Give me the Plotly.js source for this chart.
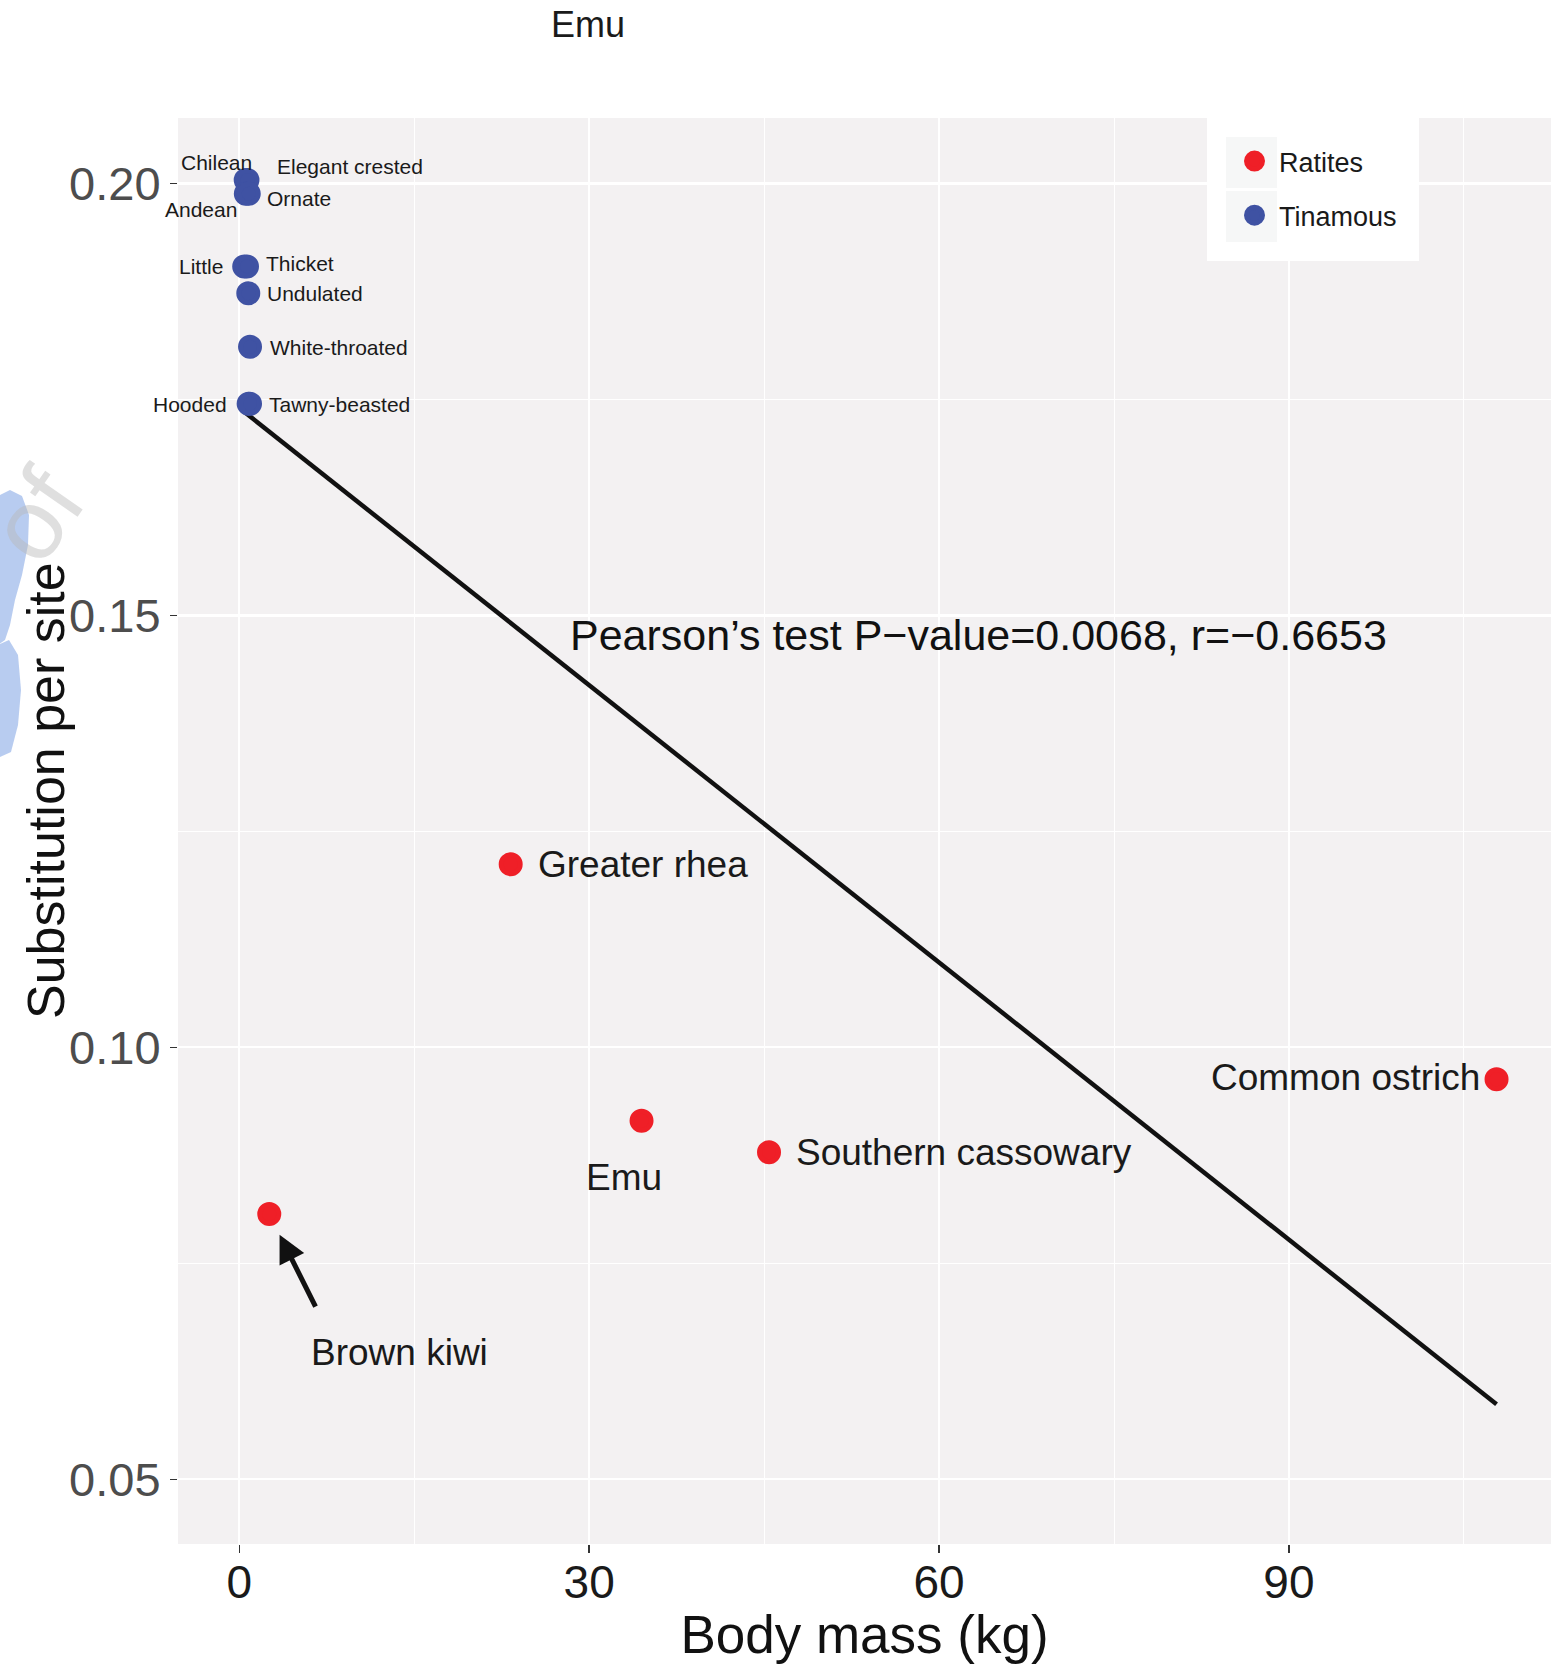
<!DOCTYPE html>
<html><head><meta charset="utf-8">
<script src="https://cdn.plot.ly/plotly-3.0.1.min.js"></script>
<style>html,body{margin:0;padding:0;background:#fff;overflow:hidden}</style>
</head><body><div id="chart" style="width:1551px;height:1664px"></div>
<script>
// ---- data ----
const ratiteNames = ['Greater rhea', 'Emu', 'Southern cassowary', 'Brown kiwi', 'Common ostrich'];
const ratiteMass = [23.27, 34.49, 45.42, 2.57, 107.8];
const ratiteSubst = [0.1212, 0.0915, 0.08785, 0.0807, 0.0963];
const tinamouNames = ['Chilean', 'Elegant crested', 'Andean', 'Ornate', 'Little', 'Thicket', 'Undulated', 'White-throated', 'Hooded', 'Tawny-beasted'];
const tinamouMass = [0.55, 0.70, 0.56, 0.81, 0.42, 0.66, 0.77, 0.92, 0.80, 0.92];
const tinamouSubst = [0.2004, 0.2004, 0.1988, 0.1988, 0.1904, 0.1904, 0.1873, 0.1811, 0.1745, 0.1745];
const groupNames = ['Ratites', 'Tinamous'];
const xTickVals = [0, 30, 60, 90];
const xTickText = ['0', '30', '60', '90'];
const xMinorVals = [15, 45, 75, 105];
const yTickVals = [0.05, 0.10, 0.15, 0.20];
const yTickText = ['0.05', '0.10', '0.15', '0.20'];
const yMinorVals = [0.075, 0.125, 0.175];
const statText = 'Pearson’s test P−value=0.0068, r=−0.6653';
const xTitle = 'Body mass (kg)';
const yTitle = 'Substitution per site';
const strayLabel = 'Emu';

// ---- styles / layout helpers ----
const FONT = 'Liberation Sans, Arial, Helvetica, sans-serif';
const RED = '#ef1f27', BLUE = '#3f52a3';
const L = 178, T = 118, W = 1373, H = 1426;
const pX = px => (px - L) / W;
const pY = py => (T + H - py) / H;

// least squares fit over all points
const allX = ratiteMass.concat(tinamouMass);
const allY = ratiteSubst.concat(tinamouSubst);
const n = allX.length;
const mx = allX.reduce((a, b) => a + b, 0) / n;
const my = allY.reduce((a, b) => a + b, 0) / n;
let sxy = 0, sxx = 0;
for (let i = 0; i < n; i++) { sxy += (allX[i] - mx) * (allY[i] - my); sxx += (allX[i] - mx) ** 2; }
const slope = sxy / sxx, icpt = my - slope * mx;
const fitX = [Math.min(...allX), Math.max(...allX)];
const fitY = fitX.map(v => icpt + slope * v);

const traces = [
  {x: fitX, y: fitY, mode: 'lines', line: {color: '#111', width: 4.5}, showlegend: false, hoverinfo: 'skip'},
  {x: ratiteMass, y: ratiteSubst, text: ratiteNames, name: groupNames[0], legendgroup: 'g1', mode: 'markers', type: 'scatter',
   marker: {color: RED, size: 19, line: {color: RED, width: 5}}},
  {x: tinamouMass, y: tinamouSubst, text: tinamouNames, name: groupNames[1], legendgroup: 'g2', mode: 'markers', type: 'scatter',
   marker: {color: BLUE, size: 19, line: {color: BLUE, width: 5}}}
];

// label placement (pixel offsets from each point)
const tinLabelPos = [
  ['center', -29, 18], ['left', 28, 14], ['center', -45, -16], ['left', 16, -5],
  ['right', -19, 0], ['left', 17, 3], ['left', 17, 0], ['left', 18, -1], ['right', -20, -1], ['left', 17, -1]
];
const ratLabelPos = [
  ['left', 25, 0], ['center', -18, -57], ['left', 25, 0], ['center', 130, -138], ['right', -15, 2]
];

const annotations = [];
tinamouNames.forEach((nm, i) => {
  const p = tinLabelPos[i];
  annotations.push({x: tinamouMass[i], y: tinamouSubst[i], xref: 'x', yref: 'y', text: nm, showarrow: false,
    xanchor: p[0], yanchor: 'middle', xshift: p[1], yshift: p[2], font: {family: FONT, size: 21, color: '#1a1a1a'}});
});
ratiteNames.forEach((nm, i) => {
  const p = ratLabelPos[i];
  annotations.push({x: ratiteMass[i], y: ratiteSubst[i], xref: 'x', yref: 'y', text: nm, showarrow: false,
    xanchor: p[0], yanchor: 'middle', xshift: p[1], yshift: p[2], font: {family: FONT, size: 37, color: '#1a1a1a'}});
});
// arrow to Brown kiwi
annotations.push({x: ratiteMass[3], y: ratiteSubst[3], xref: 'x', yref: 'y', text: '', showarrow: true,
  ax: 47, ay: 94, arrowhead: 2, arrowsize: 1.1, arrowwidth: 5, arrowcolor: '#111', standoff: 23});
// statistic text
annotations.push({x: 63.34, y: 0.1477, xref: 'x', yref: 'y', text: statText, showarrow: false,
  xanchor: 'center', yanchor: 'middle', font: {family: FONT, size: 43, color: '#111'}});
// stray label above plot
annotations.push({x: pX(587.5), y: pY(25), xref: 'paper', yref: 'paper', text: strayLabel, showarrow: false,
  xanchor: 'center', yanchor: 'middle', font: {family: FONT, size: 36, color: '#1a1a1a'}});
// y title
annotations.push({x: pX(46), y: pY(791), xref: 'paper', yref: 'paper', text: yTitle, showarrow: false, textangle: -90,
  xanchor: 'center', yanchor: 'middle', font: {family: FONT, size: 52, color: '#111'}});
// watermark fragment
annotations.push({x: pX(36), y: pY(515), xref: 'paper', yref: 'paper', text: 'of', showarrow: false, textangle: -55,
  xanchor: 'center', yanchor: 'middle', font: {family: FONT, size: 100, color: 'rgba(185,185,185,0.45)'}});

function pathFrom(pts) {
  return pts.map((p, i) => (i ? 'L' : 'M') + pX(p[0]).toFixed(5) + ',' + pY(p[1]).toFixed(5)).join(' ') + ' Z';
}
const shapes = [
  {type: 'path', xref: 'paper', yref: 'paper', layer: 'above', line: {width: 0}, fillcolor: 'rgba(176,198,238,0.9)',
   path: pathFrom([[-2, 496], [10, 490], [22, 496], [29, 515], [28, 545], [22, 575], [15, 600], [10, 625], [5, 640], [-2, 645]])},
  {type: 'path', xref: 'paper', yref: 'paper', layer: 'above', line: {width: 0}, fillcolor: 'rgba(176,198,238,0.9)',
   path: pathFrom([[-2, 645], [9, 640], [18, 655], [21, 690], [18, 725], [11, 752], [-2, 758]])},
  {type: 'rect', xref: 'paper', yref: 'paper', layer: 'above', line: {width: 0}, fillcolor: '#ffffff',
   x0: pX(1207), x1: pX(1419), y0: pY(261), y1: pY(117)},
  {type: 'rect', xref: 'paper', yref: 'paper', layer: 'above', line: {width: 0}, fillcolor: '#f6f7f7',
   x0: pX(1226), x1: pX(1277), y0: pY(188), y1: pY(137)},
  {type: 'rect', xref: 'paper', yref: 'paper', layer: 'above', line: {width: 0}, fillcolor: '#f6f7f7',
   x0: pX(1226), x1: pX(1277), y0: pY(242), y1: pY(191)}
];

const layout = {
  width: 1551, height: 1664,
  margin: {l: L, r: 0, t: T, b: 1664 - T - H, pad: 0},
  paper_bgcolor: '#ffffff', plot_bgcolor: '#f3f1f2',
  font: {family: FONT},
  showlegend: true,
  legend: {x: pX(1230), y: pY(137), xanchor: 'left', yanchor: 'top', bgcolor: 'rgba(0,0,0,0)', borderwidth: 0,
    font: {family: FONT, size: 27, color: '#1a1a1a'}, itemwidth: 39, tracegroupgap: 16, traceorder: 'grouped'},
  xaxis: {range: [-5.256, 112.47], tickmode: 'array', tickvals: xTickVals, ticktext: xTickText,
    ticks: 'outside', ticklen: 8, tickwidth: 1.5, tickcolor: '#333', showline: false, zeroline: false,
    showgrid: true, gridcolor: '#ffffff', gridwidth: 2.2,
    minor: {tickmode: 'array', tickvals: xMinorVals, showgrid: true, gridcolor: '#ffffff', gridwidth: 1},
    tickfont: {family: FONT, size: 46, color: '#1a1a1a'}, ticklabelstandoff: -10,
    title: {text: xTitle, font: {family: FONT, size: 53, color: '#111'}, standoff: 10}},
  yaxis: {range: [0.04251, 0.20758], tickmode: 'array', tickvals: yTickVals, ticktext: yTickText,
    ticks: 'outside', ticklen: 7, tickwidth: 1.5, tickcolor: '#333', showline: false, zeroline: false,
    showgrid: true, gridcolor: '#ffffff', gridwidth: 2.2,
    minor: {tickmode: 'array', tickvals: yMinorVals, showgrid: true, gridcolor: '#ffffff', gridwidth: 1},
    tickfont: {family: FONT, size: 47, color: '#4d4d4d'}, ticklabelstandoff: 0},
  annotations: annotations,
  shapes: shapes
};

Plotly.newPlot('chart', traces, layout, {displayModeBar: false, staticPlot: true});
</script>
</body></html>
